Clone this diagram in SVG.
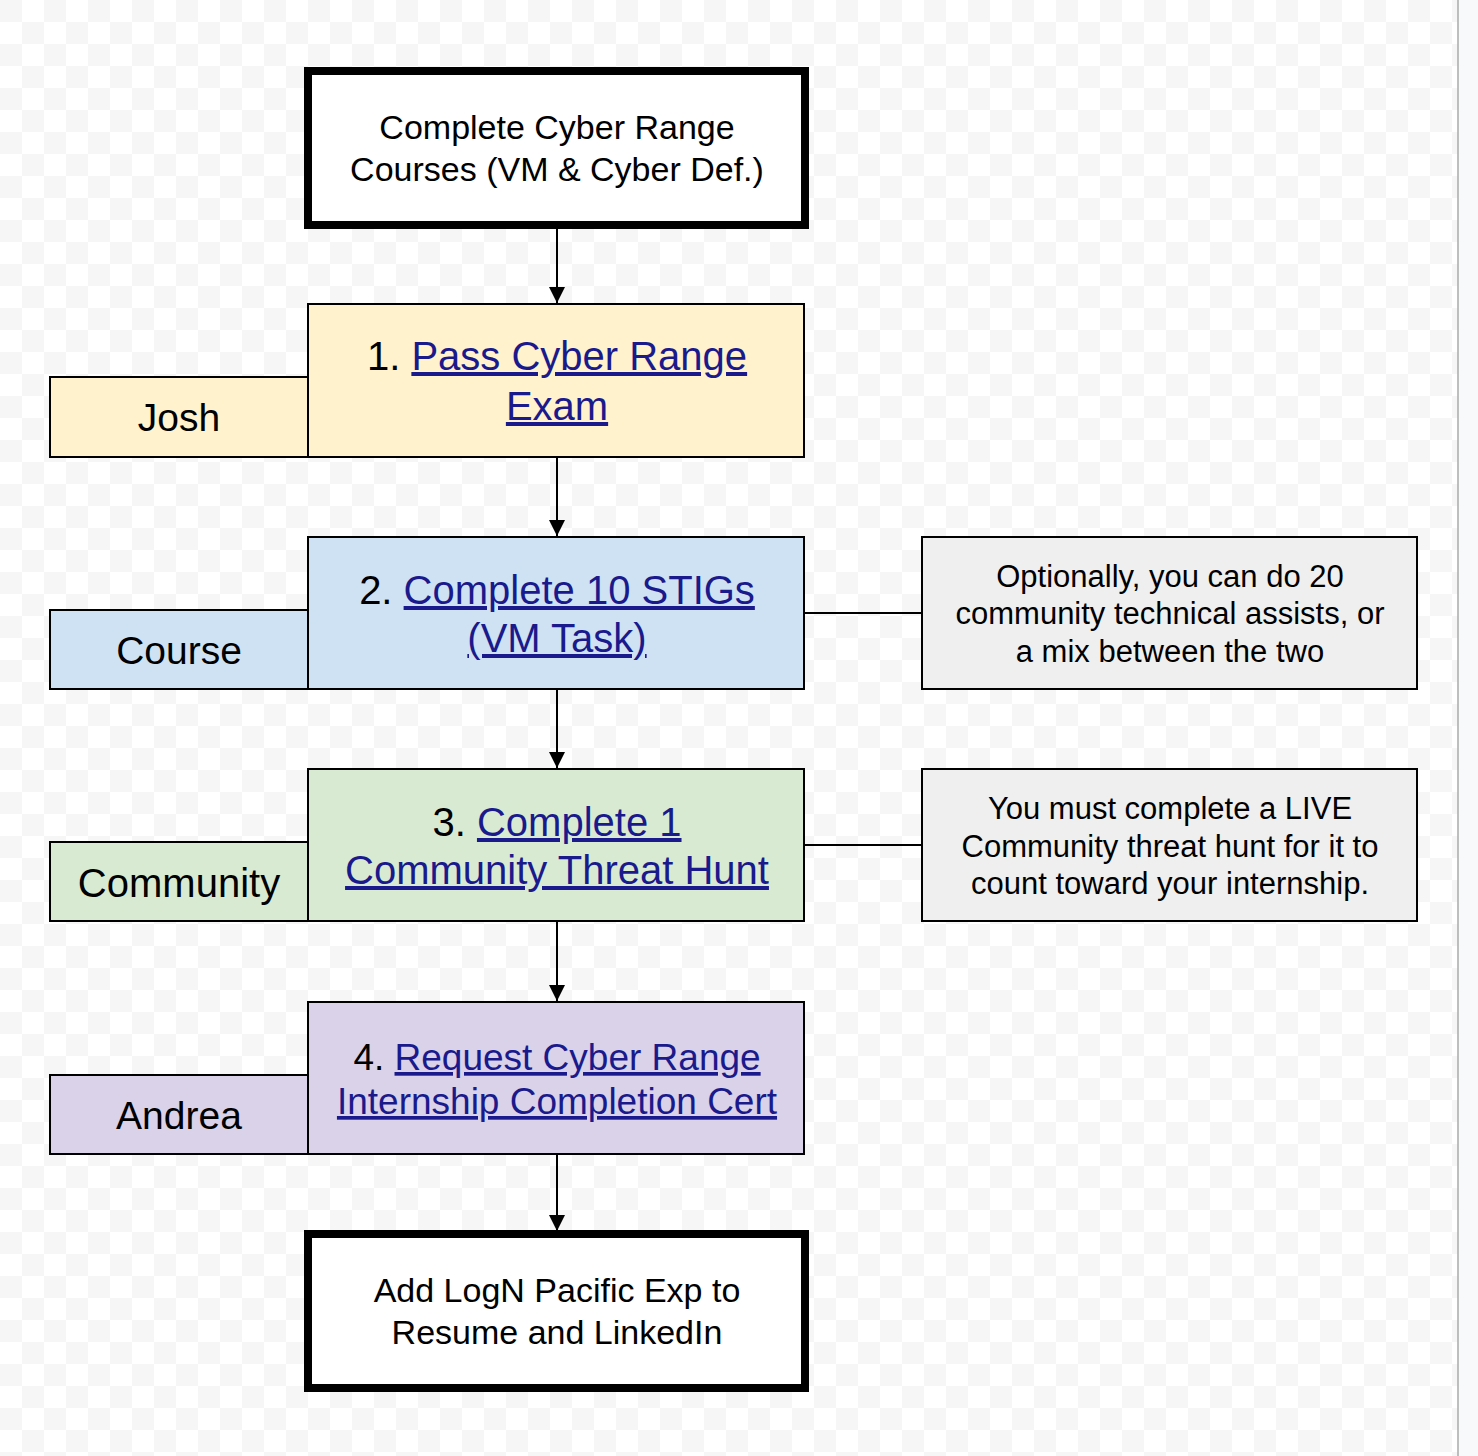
<svg xmlns="http://www.w3.org/2000/svg" width="1478" height="1456" viewBox="0 0 1478 1456">
<defs>
<pattern id="chk" width="44" height="44" patternUnits="userSpaceOnUse">
<rect width="44" height="44" fill="#ffffff"/>
<rect width="22" height="22" fill="#f6f6f6"/>
<rect x="22" y="22" width="22" height="22" fill="#f6f6f6"/>
</pattern>
<marker id="arr" markerWidth="16" markerHeight="22" refX="16" refY="8" orient="auto" markerUnits="userSpaceOnUse" viewBox="0 0 16 16">
<path d="M0,0 L16,8 L0,16 z" fill="#000"/>
</marker>
</defs>
<style>
.b{stroke:#000;stroke-width:2}
.t{font-family:"Liberation Sans",Arial,sans-serif;fill:#000;text-anchor:middle}
.l{fill:#1a1a8c;text-decoration:underline}
.c{stroke:#000;stroke-width:2;fill:none}
</style>
<rect width="1478" height="1456" fill="url(#chk)"/>
<rect x="1458" y="0" width="20" height="1456" fill="#f8f9fa"/>
<line x1="1458" y1="0" x2="1458" y2="1456" stroke="#aaa" stroke-width="1.5"/>
<g id="connectors">
<line class="c" x1="557" y1="226" x2="557" y2="303" marker-end="url(#arr)"/>
<line class="c" x1="557" y1="457" x2="557" y2="536" marker-end="url(#arr)"/>
<line class="c" x1="557" y1="689" x2="557" y2="768" marker-end="url(#arr)"/>
<line class="c" x1="557" y1="921" x2="557" y2="1001" marker-end="url(#arr)"/>
<line class="c" x1="557" y1="1154" x2="557" y2="1231" marker-end="url(#arr)"/>
<line class="c" x1="804" y1="613" x2="922" y2="613"/>
<line class="c" x1="804" y1="845" x2="922" y2="845"/>
</g>
<g id="start">
<rect x="308" y="71" width="497" height="154" fill="#fff" stroke="#000" stroke-width="8"/>
<text class="t" font-size="34" x="557" y="139">Complete Cyber Range</text>
<text class="t" font-size="34" x="557" y="181">Courses (VM &amp; Cyber Def.)</text>
</g>
<g id="josh">
<rect class="b" x="50" y="377" width="258" height="80" fill="#fff2cc"/>
<text class="t" font-size="39" x="179" y="431">Josh</text>
</g>
<g id="step1">
<rect class="b" x="308" y="304" width="496" height="153" fill="#fff2cc"/>
<text class="t" font-size="40" x="557" y="370">1. <tspan class="l">Pass Cyber Range</tspan></text>
<text class="t l" font-size="40" x="557" y="420">Exam</text>
</g>
<g id="course">
<rect class="b" x="50" y="610" width="258" height="79" fill="#cfe2f3"/>
<text class="t" font-size="39" x="179" y="664">Course</text>
</g>
<g id="step2">
<rect class="b" x="308" y="537" width="496" height="152" fill="#cfe2f3"/>
<text class="t" font-size="40" x="557" y="604">2. <tspan class="l">Complete 10 STIGs</tspan></text>
<text class="t l" font-size="40" x="557" y="652">(VM Task)</text>
</g>
<g id="note2">
<rect class="b" x="922" y="537" width="495" height="152" fill="#efefef"/>
<text class="t" font-size="31" x="1170" y="587">Optionally, you can do 20</text>
<text class="t" font-size="31" x="1170" y="624">community technical assists, or</text>
<text class="t" font-size="31" x="1170" y="662">a mix between the two</text>
</g>
<g id="community">
<rect class="b" x="50" y="842" width="258" height="79" fill="#d9ead3"/>
<text class="t" font-size="40" x="179" y="897">Community</text>
</g>
<g id="step3">
<rect class="b" x="308" y="769" width="496" height="152" fill="#d9ead3"/>
<text class="t" font-size="40" x="557" y="836">3. <tspan class="l">Complete 1</tspan></text>
<text class="t l" font-size="40" x="557" y="884">Community Threat Hunt</text>
</g>
<g id="note3">
<rect class="b" x="922" y="769" width="495" height="152" fill="#efefef"/>
<text class="t" font-size="31" x="1170" y="819">You must complete a LIVE</text>
<text class="t" font-size="31" x="1170" y="857">Community threat hunt for it to</text>
<text class="t" font-size="31" x="1170" y="894">count toward your internship.</text>
</g>
<g id="andrea">
<rect class="b" x="50" y="1075" width="258" height="79" fill="#d9d2e9"/>
<text class="t" font-size="39" x="179" y="1129">Andrea</text>
</g>
<g id="step4">
<rect class="b" x="308" y="1002" width="496" height="152" fill="#d9d2e9"/>
<text class="t" font-size="37" x="557" y="1070">4. <tspan class="l">Request Cyber Range</tspan></text>
<text class="t l" font-size="37" x="557" y="1114">Internship Completion Cert</text>
</g>
<g id="end">
<rect x="308" y="1234" width="497" height="154" fill="#fff" stroke="#000" stroke-width="8"/>
<text class="t" font-size="34" x="557" y="1302">Add LogN Pacific Exp to</text>
<text class="t" font-size="34" x="557" y="1344">Resume and LinkedIn</text>
</g>
</svg>
